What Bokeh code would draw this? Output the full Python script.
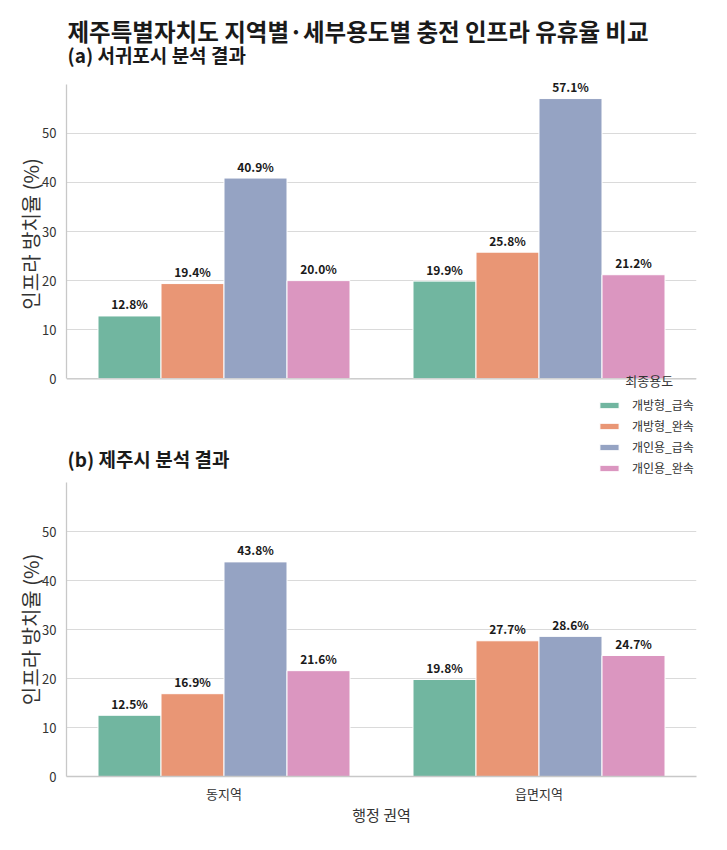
from bokeh.plotting import figure
from bokeh.models import FactorRange, Range1d, FixedTicker, Legend, LegendItem, ColumnDataSource, Label, Span
from bokeh.core.properties import value
from bokeh.transform import dodge
from bokeh.layouts import column
from bokeh.embed import file_html
from bokeh.resources import INLINE


#data
regions = ["동지역", "읍면지역"]
uses = ["개방형_급속", "개방형_완속", "개인용_급속", "개인용_완속"]
seogwipo = {
    "개방형_급속": [12.8, 19.9],
    "개방형_완속": [19.4, 25.8],
    "개인용_급속": [40.9, 57.1],
    "개인용_완속": [20.0, 21.2],
}
jeju = {
    "개방형_급속": [12.5, 19.8],
    "개방형_완속": [16.9, 27.7],
    "개인용_급속": [43.8, 28.6],
    "개인용_완속": [21.6, 24.7],
}
yticks = [0, 10, 20, 30, 40, 50]

#seaborn Set2, desaturated
colors = ["#71b6a0", "#e99675", "#95a3c3", "#db96c0"]
offsets = [-0.3, -0.1, 0.1, 0.3]
FONT = "Noto Sans CJK KR"
TXT = "#333333"
DARK = "#1a1a1a"


def blank_strip(height):
    #plain strip used for headings and the legend, frame lines up with the panels
    s = figure(width=711, height=height, x_range=Range1d(0, 630), y_range=Range1d(0, height),
               output_backend="svg", toolbar_location=None, x_axis_location=None,
               y_axis_location=None, min_border=0, min_border_left=66, min_border_right=15)
    s.outline_line_color = None
    s.grid.visible = False
    return s


def make_plot(data, height, y_range):
    p = figure(x_range=FactorRange(*regions, range_padding=0), y_range=y_range,
               width=711, height=height, output_backend="svg", toolbar_location=None,
               min_border_left=66, min_border_right=15)
    p.outline_line_color = None
    p.xgrid.grid_line_color = None
    p.ygrid.grid_line_color = "#dadada"
    p.ygrid.grid_line_width = 1.2
    p.yaxis.ticker = FixedTicker(ticks=yticks)
    p.yaxis.bounds = (0, 60)
    p.yaxis.axis_label = "인프라 방치율 (%)"
    p.yaxis.axis_label_text_font = FONT
    p.yaxis.axis_label_text_font_style = "normal"
    p.yaxis.axis_label_text_font_size = "20px"
    p.yaxis.axis_label_text_color = TXT
    p.yaxis.axis_label_standoff = -6
    p.yaxis.major_label_text_font = FONT
    p.yaxis.major_label_text_font_size = "13px"
    p.yaxis.major_label_text_color = TXT
    p.yaxis.major_label_standoff = 10
    for ax in [p.xaxis[0], p.yaxis[0]]:
        ax.axis_line_color = "#c8c8c8"
        ax.axis_line_width = 1.3
        ax.major_tick_line_color = None
        ax.minor_tick_line_color = None
        ax.major_tick_out = 0
        ax.major_tick_in = 0
    p.xaxis.major_label_text_font = FONT
    p.xaxis.major_label_text_font_size = "13px"
    p.xaxis.major_label_text_color = TXT
    p.xaxis.major_label_standoff = 7
    p.xaxis.axis_label = "행정 권역"
    p.xaxis.axis_label_text_font = FONT
    p.xaxis.axis_label_text_font_style = "normal"
    p.xaxis.axis_label_text_font_size = "15px"
    p.xaxis.axis_label_text_color = TXT
    p.xaxis.axis_label_standoff = -2

    for use, color, off in zip(uses, colors, offsets):
        src = ColumnDataSource(dict(region=regions, value=data[use],
                                    label=["%.1f%%" % v for v in data[use]]))
        p.vbar(x=dodge("region", off, range=p.x_range), top="value", width=0.2, source=src,
               fill_color=color, line_color="white", line_width=1)
        p.text(x=dodge("region", off, range=p.x_range), y="value", text="label", source=src,
               text_font=value(FONT), text_font_size="12px", text_font_style="bold",
               text_color=DARK, text_align="center", text_baseline="middle", y_offset=-12)
    return p


#headings
head = blank_strip(73)
head.add_layout(Label(x=1, y=43, text="제주특별자치도 지역별·세부용도별 충전 인프라 유휴율 비교",
                      text_font=FONT, text_font_size="23.5px", text_font_style="bold",
                      text_color=DARK, text_baseline="middle"))
head.add_layout(Label(x=1, y=19, text="(a) 서귀포시 분석 결과", text_font=FONT, text_font_size="19px",
                      text_font_style="bold", text_color=DARK, text_baseline="middle"))

#top panel (a)
top = make_plot(seogwipo, 320, Range1d(-3, 62))
top.xaxis.visible = False
top.add_layout(Span(location=0, dimension="width", line_color="#c8c8c8", line_width=1.3))
top.min_border_top = 1
top.min_border_bottom = 0
top.add_layout(Label(x=1.85, y=0, y_offset=-2, text="최종용도", text_font=FONT, text_font_size="13px",
                     text_color=TXT, text_align="center", text_baseline="middle"))

#strip between the panels: legend and the (b) heading
mid = blank_strip(88)
nan = float("nan")
swatches = [mid.vbar(x=[nan], top=[nan], width=1, fill_color=c, line_color="white", line_width=1)
            for c in colors]
mid.add_layout(Label(x=1, y=23, text="(b) 제주시 분석 결과", text_font=FONT, text_font_size="19px",
                     text_font_style="bold", text_color=DARK, text_baseline="middle"))
legend = Legend(items=[LegendItem(label=u, renderers=[r]) for u, r in zip(uses, swatches)],
                location=(531, 5), label_text_font=FONT, label_text_font_size="12px",
                label_text_color=TXT, glyph_width=24, glyph_height=8, label_standoff=11,
                spacing=4, padding=0, margin=0, border_line_color=None, background_fill_alpha=0)
mid.add_layout(legend, "center")

#bottom panel (b)
bottom = make_plot(jeju, 347, Range1d(0, 60))
bottom.min_border_top = 1
bottom.min_border_bottom = 52

layout = column(head, top, mid, bottom)
open("out.html", "w").write(file_html(layout, INLINE))
